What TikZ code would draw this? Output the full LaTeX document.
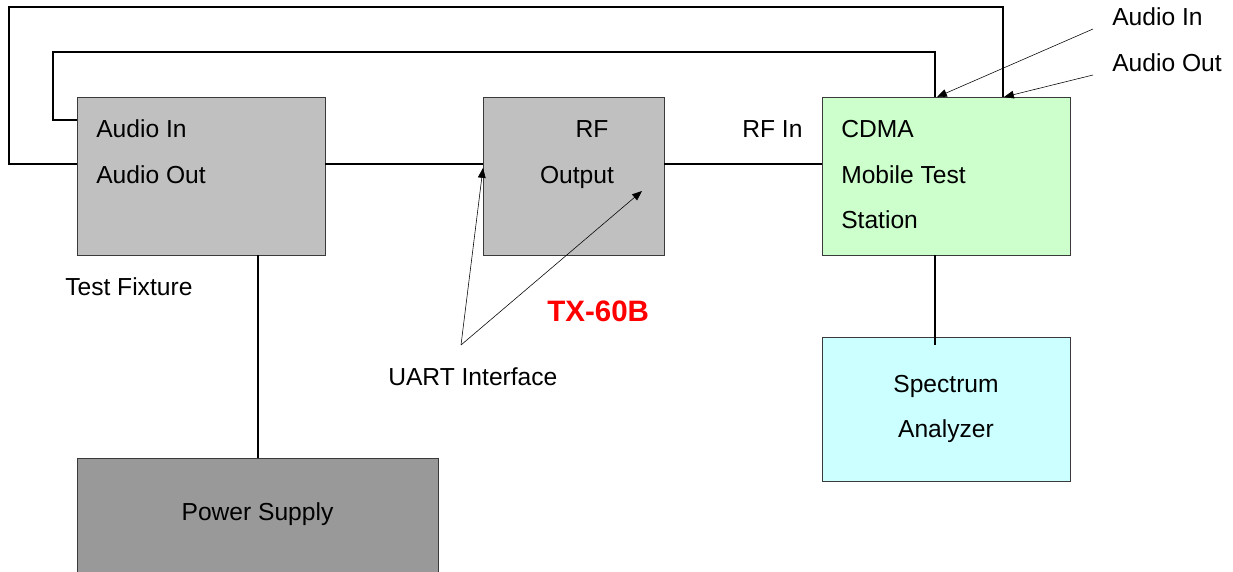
\documentclass[tikz,border=0pt]{standalone}
\usepackage{fontspec}
\setmainfont{Liberation Sans}
\usepackage{xcolor}
\usetikzlibrary{arrows.meta}

\definecolor{fixgray}{HTML}{C0C0C0}
\definecolor{psugray}{HTML}{999999}
\definecolor{cdmagreen}{HTML}{CCFFCC}
\definecolor{specblue}{HTML}{CCFFFF}
\definecolor{edgegray}{HTML}{3A3A3A}

\begin{document}
\begin{tikzpicture}[x=0.025cm, y=-0.025cm,
    unit/.style={draw=edgegray, line width=0.6pt, inner sep=0pt},
    wire/.style={line width=1.4pt},
    pointer/.style={line width=0.4pt, -{Triangle[length=7pt,width=5.5pt]}},
    lbl/.style={font=\fontsize{17.5}{21}\selectfont, inner sep=0pt}]
    \useasboundingbox (0,0) rectangle (1233,571);

    % boxes
    \node[unit, fill=fixgray, minimum width=6.2cm, minimum height=3.95cm] (tf) at (201,176) {};
    \node[unit, fill=fixgray, minimum width=4.525cm, minimum height=3.95cm] (rf) at (573.5,176) {};
    \node[unit, fill=cdmagreen, minimum width=6.2cm, minimum height=3.95cm] (cdma) at (946,176) {};
    \node[unit, fill=specblue, minimum width=6.2cm, minimum height=3.6cm] (spec) at (946,409) {};
    \node[unit, fill=psugray, minimum width=9.025cm, minimum height=3.3cm] (psu) at (257.5,524) {};

    % texts
    \node[lbl, anchor=base west] (tfin) at (96,138) {Audio In};
    \node[lbl, anchor=base west] (tfout) at (96,183) {Audio Out};
    \node[lbl, anchor=base west] (tfname) at (65,295) {Test Fixture};
    \node[lbl, anchor=base] (rfa) at (592,138) {RF};
    \node[lbl, anchor=base] (rfb) at (577,183) {Output};
    \node[lbl, anchor=base west] (rfin) at (742,138) {RF In};
    \node[lbl, anchor=base west] (cdmaa) at (841,138) {CDMA};
    \node[lbl, anchor=base west] (cdmab) at (841,183) {Mobile Test};
    \node[lbl, anchor=base west] (cdmac) at (841,228) {Station};
    \node[lbl, anchor=base] (speca) at (946,392) {Spectrum};
    \node[lbl, anchor=base] (specb) at (946,437) {Analyzer};
    \node[lbl, anchor=base] (psuname) at (257.5,520) {Power Supply};
    \node[lbl, anchor=base west] (uart) at (388,385) {UART Interface};
    \node[lbl, anchor=base west, font=\fontsize{21}{25}\selectfont\bfseries, text=red] (model) at (547,321) {TX-60B};
    \node[lbl, anchor=base west] (ain) at (1112,26) {Audio In};
    \node[lbl, anchor=base west] (aout) at (1112,72) {Audio Out};

    % wire ends
    \coordinate (tfai) at (77,120);
    \coordinate (tfao) at (77,164);
    \coordinate (specin) at (935,345);
    \coordinate (uartap) at (461,345);
    \coordinate (ainap) at (1093,29);
    \coordinate (aoutap) at (1093,75);

    % audio loops
    \draw[wire] (tfao) -- (9,164) -- (9,7) -- (1003,7) -- (1003,0 |- cdma.north);
    \draw[wire] (tfai) -- (53,120) -- (53,52) -- (935,52) -- (935,0 |- cdma.north);

    % rf and power lines
    \draw[wire] (0,164 -| tf.east) -- (0,164 -| rf.west);
    \draw[wire] (0,164 -| rf.east) -- (0,164 -| cdma.west);
    \draw[wire] (935,0 |- cdma.south) -- (specin);
    \draw[wire] (258,0 |- tf.south) -- (258,0 |- psu.north);

    % pointers
    \draw[pointer] (uartap) -- (483,168);
    \draw[pointer] (uartap) -- (642,191);
    \draw[pointer] (ainap) -- (937,97);
    \draw[pointer] (aoutap) -- (1004,97);
\end{tikzpicture}
\end{document}
